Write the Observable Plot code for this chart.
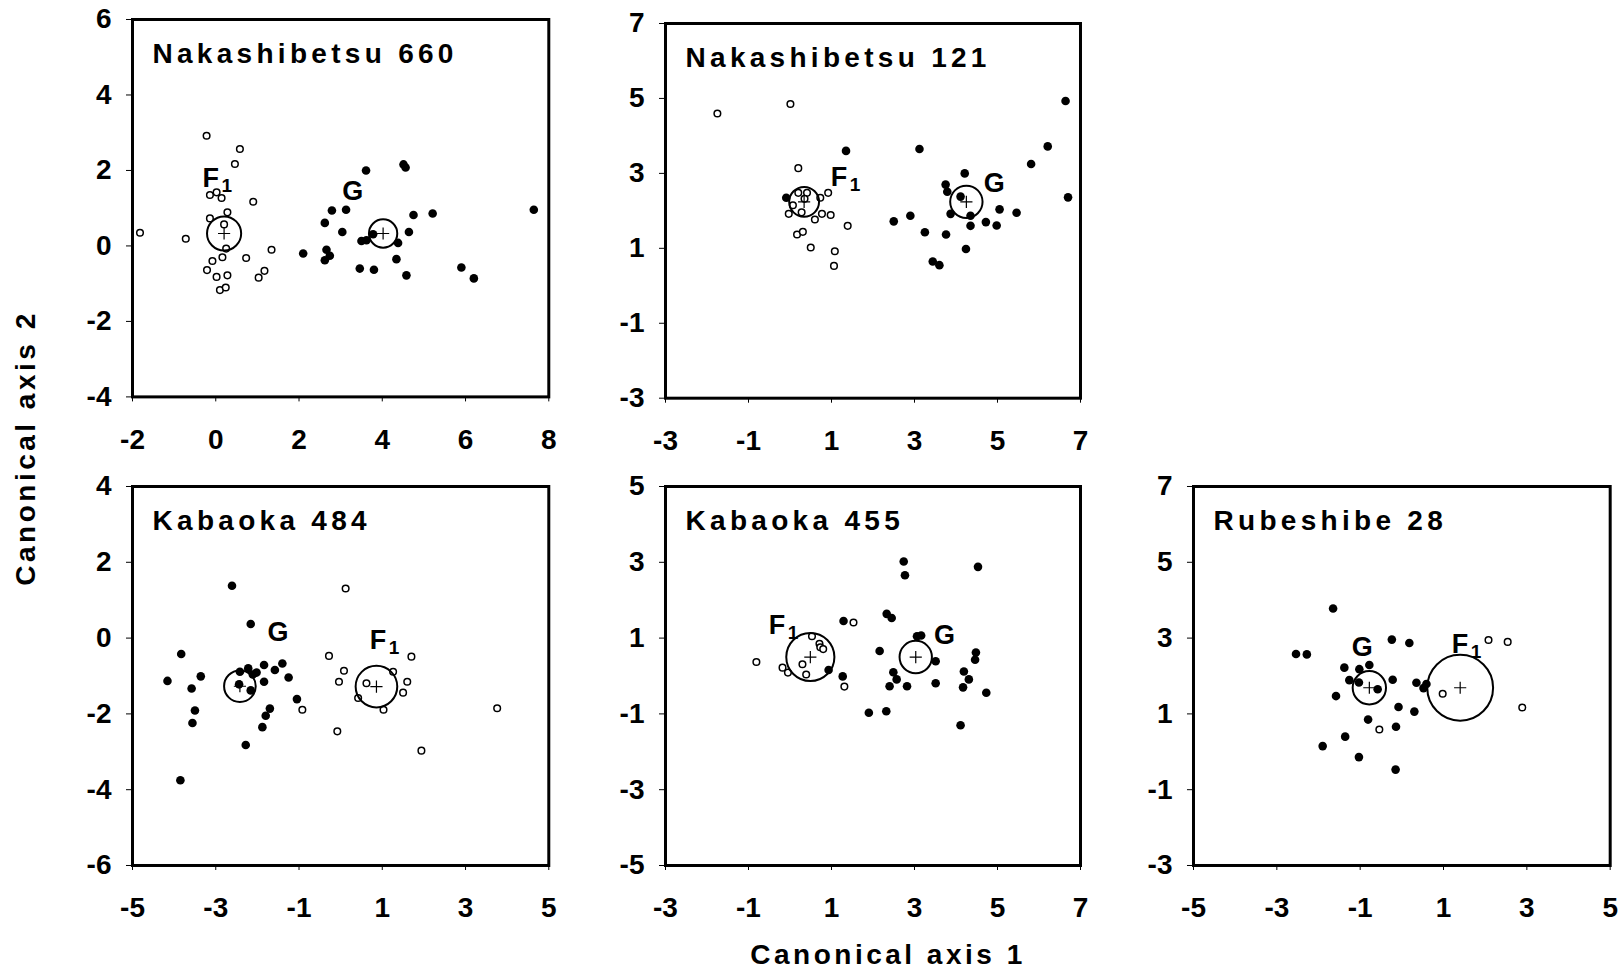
<!DOCTYPE html>
<html><head><meta charset="utf-8">
<script src="https://cdn.jsdelivr.net/npm/d3@7"></script>
<script src="https://cdn.jsdelivr.net/npm/@observablehq/plot@0.6"></script>
<style>
body{margin:0;background:#fff;}
#root{position:relative;width:1624px;height:971px;overflow:hidden;font-family:"Liberation Sans",Arial,sans-serif;background:#fff;}
.panel{position:absolute;}
.axtitle{position:absolute;font-weight:bold;font-size:28px;line-height:1;letter-spacing:3.5px;white-space:nowrap;color:#000;}
</style></head><body><div id="root"></div>
<script>
// ---------- data ----------
const panelTitles = ["Nakashibetsu 660", "Nakashibetsu 121", "Kabaoka 484", "Kabaoka 455", "Rubeshibe 28"];
const xDomains = [[-2, 8], [-3, 7], [-5, 5], [-3, 7], [-5, 5]];
const yDomains = [[-4, 6], [-3, 7], [-6, 4], [-5, 5], [-3, 7]];
const xTicks = [[-2, 0, 2, 4, 6, 8], [-3, -1, 1, 3, 5, 7], [-5, -3, -1, 1, 3, 5], [-3, -1, 1, 3, 5, 7], [-5, -3, -1, 1, 3, 5]];
const yTicks = [[-4, -2, 0, 2, 4, 6], [-3, -1, 1, 3, 5, 7], [-6, -4, -2, 0, 2, 4], [-5, -3, -1, 1, 3, 5], [-3, -1, 1, 3, 5, 7]];

// F1 individuals (open circles), G individuals (filled dots): [axis1, axis2]
const f1_660 = [[-1.82,0.35],[-0.72,0.19],[-0.22,2.92],[0.58,2.57],[0.46,2.17],[-0.14,1.35],[0.02,1.42],[0.14,1.27],[0.90,1.17],[0.28,0.89],[-0.14,0.73],[0.20,0.57],[0.25,-0.07],[1.34,-0.10],[0.73,-0.32],[-0.08,-0.40],[0.16,-0.30],[-0.21,-0.64],[0.02,-0.82],[0.28,-0.78],[1.17,-0.66],[1.03,-0.84],[0.10,-1.17],[0.24,-1.10]];
const g_660 = [[3.61,2.00],[4.51,2.16],[4.56,2.08],[2.79,0.94],[3.13,0.96],[4.75,0.82],[5.21,0.86],[7.64,0.96],[2.62,0.61],[3.04,0.37],[3.78,0.31],[4.64,0.37],[3.50,0.13],[3.62,0.15],[4.38,0.08],[2.10,-0.20],[2.66,-0.10],[2.74,-0.26],[2.62,-0.38],[4.34,-0.35],[3.46,-0.60],[3.80,-0.63],[4.58,-0.78],[5.90,-0.57],[6.20,-0.86]];
const f1_121 = [[-1.75,4.60],[0.01,4.85],[0.20,3.14],[0.92,2.48],[0.73,2.35],[1.39,1.60],[-0.03,1.92],[0.07,2.15],[0.28,1.96],[0.60,1.77],[0.77,1.92],[0.98,1.89],[0.17,1.37],[0.31,1.44],[0.50,1.02],[1.08,0.92],[1.06,0.53],[0.20,2.48],[0.41,2.48],[0.35,2.32]];
const g_121 = [[-0.09,2.35],[1.35,3.60],[3.12,3.65],[6.64,4.93],[6.21,3.72],[5.81,3.25],[6.70,2.36],[4.21,3.00],[3.75,2.70],[3.79,2.51],[4.11,2.38],[2.50,1.72],[2.90,1.87],[3.87,1.92],[4.35,1.87],[5.05,2.04],[5.46,1.95],[4.72,1.70],[4.98,1.61],[4.35,1.60],[3.25,1.43],[3.76,1.37],[4.24,0.98],[3.44,0.65],[3.60,0.55]];
const f1_484 = [[0.12,1.31],[-0.28,-0.47],[1.70,-0.49],[0.08,-0.86],[-0.04,-1.15],[1.26,-0.89],[1.60,-1.15],[0.62,-1.19],[1.50,-1.44],[0.42,-1.58],[-0.92,-1.89],[1.03,-1.89],[-0.08,-2.46],[1.94,-2.97],[3.76,-1.85]];
const g_484 = [[-2.61,1.38],[-2.16,0.37],[-3.83,-0.42],[-4.16,-1.13],[-3.36,-1.01],[-3.58,-1.33],[-3.50,-1.91],[-3.56,-2.24],[-2.42,-0.89],[-2.22,-0.80],[-2.02,-0.91],[-2.11,-0.96],[-1.84,-0.71],[-1.58,-0.84],[-1.40,-0.67],[-1.25,-1.04],[-1.84,-1.15],[-2.44,-1.22],[-2.16,-1.38],[-1.05,-1.61],[-1.70,-1.86],[-1.80,-2.05],[-1.88,-2.35],[-2.28,-2.82],[-3.85,-3.75]];
const f1_455 = [[-0.81,0.37],[-0.18,0.22],[-0.05,0.09],[0.30,0.31],[0.39,0.04],[0.53,1.05],[0.71,0.85],[0.73,0.76],[0.80,0.71],[1.53,1.41],[1.31,-0.28]];
const g_455 = [[1.29,1.45],[0.93,0.16],[1.27,-0.01],[2.74,3.02],[2.77,2.66],[4.53,2.88],[2.33,1.64],[2.45,1.53],[3.06,1.05],[3.16,1.07],[2.16,0.66],[3.51,0.39],[4.48,0.62],[4.46,0.43],[2.49,0.10],[2.57,-0.09],[2.40,-0.27],[2.82,-0.27],[3.51,-0.19],[4.19,0.12],[4.31,-0.09],[4.17,-0.30],[4.73,-0.44],[1.90,-0.97],[2.32,-0.93],[4.11,-1.30]];
const f1_28 = [[-0.54,0.59],[0.98,1.53],[2.08,2.95],[2.54,2.90],[2.89,1.17]];
const g_28 = [[-1.65,3.78],[-2.54,2.58],[-2.28,2.57],[-0.24,2.96],[0.18,2.87],[-1.38,2.22],[-1.02,2.18],[-0.78,2.29],[-1.26,1.89],[-1.03,1.83],[-0.22,1.90],[0.35,1.82],[0.59,1.79],[0.52,1.68],[-0.58,1.65],[-1.58,1.47],[-0.08,1.18],[0.30,1.06],[-0.81,0.85],[-0.14,0.66],[-1.36,0.40],[-1.90,0.15],[-1.03,-0.14],[-0.15,-0.47]];

// group centroids: [axis1, axis2, circle radius in axis-1 units]
const f1Centroids = [[0.20,0.33,0.41],[0.34,2.24,0.36],[0.86,-1.28,0.50],[0.49,0.50,0.58],[1.40,1.69,0.79]];
const gCentroids  = [[4.02,0.33,0.34],[4.25,2.24,0.39],[-2.42,-1.27,0.38],[3.03,0.50,0.39],[-0.78,1.69,0.40]];
// group label anchor points (baseline-left), [axis1, axis2]
const f1Labels = [[-0.32,1.57],[0.98,2.65],[0.70,-0.28],[-0.51,1.11],[1.20,2.60]];
const gLabels  = [[3.04,1.21],[4.67,2.51],[-1.76,-0.08],[3.47,0.85],[-1.20,2.54]];

const f1Sets = [f1_660, f1_121, f1_484, f1_455, f1_28];
const gSets = [g_660, g_121, g_484, g_455, g_28];

// ---------- layout ----------
const frames = [
  {L:131.7, T:19.3, W:416.3, H:377.4},
  {L:665,   T:23.3, W:415,   H:374.7},
  {L:131.7, T:486,  W:416.3, H:379},
  {L:665,   T:486,  W:415,   H:379},
  {L:1193.3,T:486,  W:416.7, H:379}
];
const FONT = '"Liberation Sans", Arial, Helvetica, sans-serif';
const root = document.getElementById("root");
const toObj = ([x, y]) => ({x, y});

panelTitles.forEach((title, i) => {
  const f = frames[i];
  const ml = 90, mr = 12, mt = 20, mb = 70;
  const [x0, x1] = xDomains[i];
  const pxPerUnit = f.W / (x1 - x0);
  const open = f1Sets[i].map(toObj);
  const filled = gSets[i].map(toObj);
  const cents = [f1Centroids[i], gCentroids[i]].map(([x, y, R]) => ({x, y, R}));
  const labs = [{x: f1Labels[i][0], y: f1Labels[i][1], name: "F", sub: "1"},
                {x: gLabels[i][0], y: gLabels[i][1], name: "G", sub: ""}];
  const svg = Plot.plot({
    width: ml + f.W + mr,
    height: mt + f.H + mb,
    marginLeft: ml, marginRight: mr, marginTop: mt, marginBottom: mb,
    style: {fontFamily: FONT, fontSize: "28px", fontWeight: "bold", background: "transparent", color: "#000", overflow: "visible"},
    x: {domain: xDomains[i], ticks: xTicks[i], tickFormat: d => String(d), tickSize: 5, tickPadding: 27, label: null},
    y: {domain: yDomains[i], ticks: yTicks[i], tickFormat: d => String(d), tickSize: 6, tickPadding: 15, label: null},
    marks: [
      Plot.frame({stroke: "#000", strokeWidth: 3}),
      Plot.dot(filled, {x: "x", y: "y", r: 4.3, fill: "#000", stroke: "none"}),
      Plot.dot(open, {x: "x", y: "y", r: 3.3, fill: "#fff", stroke: "#000", strokeWidth: 1.5}),
      ...cents.map(c => Plot.dot([c], {x: "x", y: "y", r: c.R * pxPerUnit, fill: "none", stroke: "#000", strokeWidth: 2})),
      Plot.dot(cents, {x: "x", y: "y", symbol: "plus", r: 4, stroke: "#000", strokeWidth: 1.2}),
      Plot.text([title], {text: d => d, frameAnchor: "top-left", dx: 20, dy: 35, textAnchor: "start", lineAnchor: "middle", fontSize: 28, fontWeight: "bold", fill: "#000"}),
      Plot.text(labs, {x: "x", y: "y", text: "name", textAnchor: "start", lineAnchor: "bottom", fontSize: 27, fontWeight: "bold", fill: "#000"}),
      Plot.text(labs, {x: "x", y: "y", text: "sub", dx: 19, dy: 5, textAnchor: "start", lineAnchor: "bottom", fontSize: 19, fontWeight: "bold", fill: "#000"})
    ]
  });
  d3.select(svg).selectAll("text").filter(function() { return this.textContent === title; })
    .attr("letter-spacing", "4.3px");
  svg.classList.add("panel");
  svg.style.position = "absolute";
  svg.style.left = (f.L - ml) + "px";
  svg.style.top = (f.T - mt) + "px";
  root.appendChild(svg);
});

// axis titles
const yTitle = document.createElement("div");
yTitle.className = "axtitle";
yTitle.textContent = "Canonical axis 2";
yTitle.style.left = "26px";
yTitle.style.top = "448px";
yTitle.style.transform = "translate(-50%,-50%) rotate(-90deg)";
root.appendChild(yTitle);

const xTitle = document.createElement("div");
xTitle.className = "axtitle";
xTitle.textContent = "Canonical axis 1";
xTitle.style.left = "888px";
xTitle.style.top = "941px";
xTitle.style.transform = "translateX(-50%)";
root.appendChild(xTitle);
</script>
</body></html>
